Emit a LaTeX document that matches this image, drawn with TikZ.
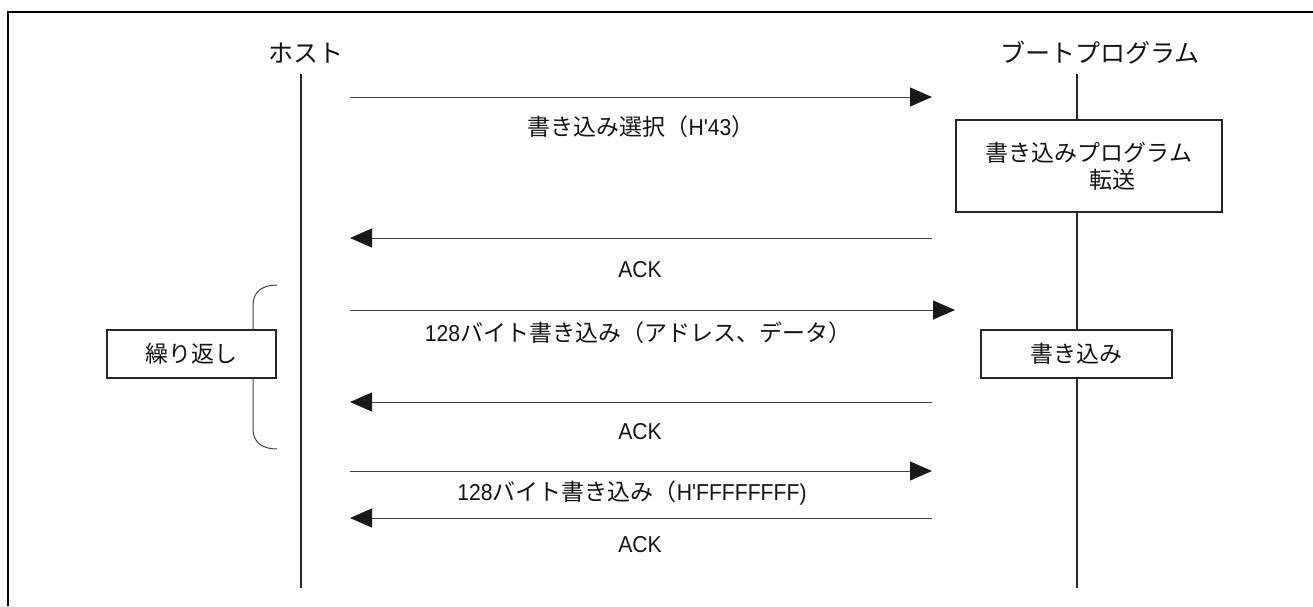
\documentclass[tikz,border=0pt]{standalone}
\usepackage{fontspec}
\newfontfamily\lat{Liberation Sans}[FakeStretch=0.92]
\newfontfamily\jpf{Noto Sans CJK JP}
\newcommand\myjp[1]{{\jpf #1}}
\usetikzlibrary{arrows.meta}
\begin{document}
\begin{tikzpicture}[x=1pt,y=-1pt,
  lbl/.style={font=\lat\fontsize{23}{28}\selectfont, inner sep=0pt, text=black!92},
  ttl/.style={font=\jpf\fontsize{25}{30}\selectfont, inner sep=0pt, text=black!92},
  box/.style={draw=black!85, line width=2pt, fill=white, inner sep=0pt,
    font=\jpf\fontsize{23}{27}\selectfont, text=black!92, align=center},
  msg/.style={line width=1pt, draw=black!75,
    -{Triangle[length=22pt,width=19pt,color=black!90]}},
  life/.style={line width=1.3pt, draw=black!85},
  frame/.style={line width=2.5pt, draw=black}]
\useasboundingbox (0,0) rectangle (1313,606);
% frame
\coordinate (fbl) at (8,606);
\coordinate (ftl) at (8,12);
\coordinate (ftr) at (1313,12);
\draw[frame] (fbl) -- (ftl) -- (ftr);
% titles
\node[ttl] (host) at (306,53) {ホスト};
\node[ttl] (boot) at (1100,53) {ブートプログラム};
% lifelines
\coordinate (ht) at (301,74);
\coordinate (hb) at (301,588);
\coordinate (bt) at (1077,74);
\coordinate (bb) at (1077,588);
\draw[life] (ht) -- (hb);
\draw[life] (bt) -- (bb);
% brace
\coordinate (brt) at (277,285);
\coordinate (brb) at (277,449);
\draw[line width=1pt, draw=black!75] (brt) .. controls (262,285) and (253,292) .. (253,305)
  -- (253,429) .. controls (253,442) and (262,449) .. (brb);
% boxes
\node[box, minimum width=266pt, minimum height=92pt] (prog) at (1089,166)
  {書き込みプログラム\\\hspace*{46pt}転送};
\node[box, minimum width=191pt, minimum height=48pt] (wr) at (1076.5,354) {書き込み};
\node[box, minimum width=169pt, minimum height=48pt] (rep) at (191.5,354) {繰り返し};
% messages
\coordinate (m1s) at (350,97);  \coordinate (m1e) at (932,97);
\coordinate (m2s) at (932,238); \coordinate (m2e) at (350,238);
\coordinate (m3s) at (350,310); \coordinate (m3e) at (955,310);
\coordinate (m4s) at (932,402); \coordinate (m4e) at (350,402);
\coordinate (m5s) at (350,471); \coordinate (m5e) at (932,471);
\coordinate (m6s) at (932,518); \coordinate (m6e) at (350,518);
\draw[msg] (m1s) -- (m1e);
\draw[msg] (m2s) -- (m2e);
\draw[msg] (m3s) -- (m3e);
\draw[msg] (m4s) -- (m4e);
\draw[msg] (m5s) -- (m5e);
\draw[msg] (m6s) -- (m6e);
% labels
\node[lbl] (l1) at (641,127) {\myjp{書き込み選択（}H'43\myjp{）}};
\node[lbl] (l2) at (640,270) {ACK};
\node[lbl] (l3) at (638,333) {128\myjp{バイト書き込み（アドレス、データ）}};
\node[lbl] (l4) at (640,432) {ACK};
\node[lbl] (l5) at (632,493) {128\myjp{バイト書き込み（}H'FFFFFFFF)};
\node[lbl] (l6) at (640,545) {ACK};
\end{tikzpicture}
\end{document}
